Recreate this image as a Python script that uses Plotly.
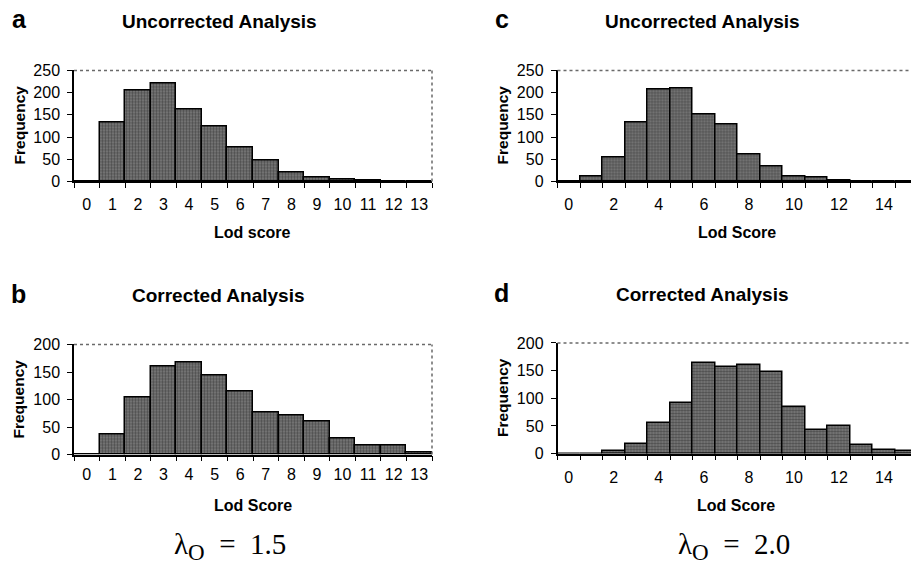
import plotly.graph_objects as go

# ---- data ----
lod_a = ["0", "1", "2", "3", "4", "5", "6", "7", "8", "9", "10", "11", "12", "13"]
freq_a = [0, 132, 205, 221, 162, 123, 77, 47, 21, 10, 4, 2, 1, 1]
ticks_a = ["0", "1", "2", "3", "4", "5", "6", "7", "8", "9", "10", "11", "12", "13"]

lod_b = ["0", "1", "2", "3", "4", "5", "6", "7", "8", "9", "10", "11", "12", "13"]
freq_b = [0, 36, 104, 160, 167, 143, 115, 76, 71, 60, 29, 16, 16, 3]
ticks_b = ["0", "1", "2", "3", "4", "5", "6", "7", "8", "9", "10", "11", "12", "13"]

lod_c = ["0", "1", "2", "3", "4", "5", "6", "7", "8", "9", "10", "11", "12", "13", "14", "15"]
freq_c = [0, 11, 55, 133, 208, 209, 151, 128, 62, 33, 12, 8, 3, 1, 0, 0]
ticks_c = ["0", "", "2", "", "4", "", "6", "", "8", "", "10", "", "12", "", "14", ""]

lod_d = ["0", "1", "2", "3", "4", "5", "6", "7", "8", "9", "10", "11", "12", "13", "14", "15"]
freq_d = [0, 0, 4, 18, 55, 91, 163, 157, 160, 147, 84, 42, 49, 16, 7, 4]
ticks_d = ["0", "", "2", "", "4", "", "6", "", "8", "", "10", "", "12", "", "14", ""]

W, H = 911, 572
SANS = "Liberation Sans, Arial, sans-serif"
SERIF = "Liberation Serif, Times New Roman, serif"

bar_marker = dict(
    color="#666666",
    line=dict(color="black", width=1.5),
    pattern=dict(shape=".", fgcolor="#1a1a1a", bgcolor="#7e7e7e", size=3, solidity=0.5),
)

fig = go.Figure()
panels = [
    ("", lod_a, freq_a),
    ("2", lod_b, freq_b),
    ("3", lod_c, freq_c),
    ("4", lod_d, freq_d),
]
for suf, x, y in panels:
    fig.add_trace(go.Bar(x=x, y=y, xaxis="x" + suf, yaxis="y" + suf,
                         marker=bar_marker, showlegend=False, hoverinfo="x+y"))

# vertical placement correction measured from the rendered page
Y_OFF, Y_SCALE = 7.6, 0.97

def px_x(v):
    return v / W

def px_y(v):
    return 1 - ((v - Y_OFF) / Y_SCALE) / H

def xax(dom, anchor, cats, labels, rng, standoff):
    return dict(domain=dom, anchor=anchor, type="category", range=rng,
                tickmode="array", tickvals=cats, ticktext=labels, tickangle=0,
                tickson="boundaries", ticks="outside", ticklen=5, tickwidth=1,
                tickcolor="black", showline=True, linecolor="black", linewidth=1.5,
                showgrid=False, zeroline=False, ticklabelstandoff=standoff,
                tickfont=dict(family=SANS, size=16, color="black"))

def yax(dom, anchor, top):
    return dict(domain=dom, anchor=anchor, range=[0, top], dtick=50,
                ticks="outside", ticklen=5, tickwidth=1, tickcolor="black",
                showline=True, linecolor="black", linewidth=1.5,
                showgrid=False, zeroline=False, ticklabelstandoff=4,
                tickfont=dict(family=SANS, size=16, color="black"))

left_dom = [px_x(74), px_x(432)]
right_dom = [px_x(557.5), 1.0]
top_dom = [px_y(181), px_y(70)]
bot_dom_b = [px_y(454), px_y(344)]
bot_dom_d = [px_y(453), px_y(342.5)]

fig.update_layout(
    width=W, height=H,
    margin=dict(l=0, r=0, t=0, b=0),
    paper_bgcolor="white", plot_bgcolor="white",
    bargap=0,
    xaxis=xax(left_dom, "y", lod_a, ticks_a, [-0.5, 13.5], 8),
    yaxis=yax(top_dom, "x", 250),
    xaxis2=xax(left_dom, "y2", lod_b, ticks_b, [-0.5, 13.5], 5),
    yaxis2=yax(bot_dom_b, "x2", 200),
    xaxis3=xax(right_dom, "y3", lod_c, ticks_c, [-0.5, 15.2], 8),
    yaxis3=yax(top_dom, "x3", 250),
    xaxis4=xax(right_dom, "y4", lod_d, ticks_d, [-0.5, 15.2], 9),
    yaxis4=yax(bot_dom_d, "x4", 200),
)

# dotted top / right frame
shapes = []
for suf, right in [("", True), ("2", True), ("3", False), ("4", False)]:
    xr = "x" + suf + " domain"
    yr = "y" + suf + " domain"
    shapes.append(dict(type="line", xref=xr, yref=yr, x0=0, x1=1, y0=1, y1=1,
                       line=dict(color="#6a6a6a", width=1.5, dash="dot")))
    if right:
        shapes.append(dict(type="line", xref=xr, yref=yr, x0=1, x1=1, y0=0, y1=1,
                           line=dict(color="#6a6a6a", width=1.5, dash="dot")))
fig.update_layout(shapes=shapes)

ann = []
def text(x, y, s, size, bold=True, angle=0, family=SANS):
    ann.append(dict(xref="paper", yref="paper", x=px_x(x), y=px_y(y),
                    xanchor="center", yanchor="middle", showarrow=False,
                    text=("<b>%s</b>" % s) if bold else s, textangle=angle,
                    font=dict(family=family, size=size, color="black")))

# panel letters
text(19.5, 19, "a", 25)
text(18.5, 294, "b", 25)
text(502, 19, "c", 25)
text(501.5, 293, "d", 25)
# panel titles
text(219, 21, "Uncorrected Analysis", 19)
text(218, 295, "Corrected Analysis", 19)
text(702.5, 21, "Uncorrected Analysis", 19)
text(702, 294, "Corrected Analysis", 19)
# y titles
text(19, 125, "Frequency", 15.5, angle=-90)
text(19, 399, "Frequency", 15.5, angle=-90)
text(502, 125, "Frequency", 15.5, angle=-90)
text(502, 397.5, "Frequency", 15.5, angle=-90)
# x titles
text(252.5, 232, "Lod score", 16)
text(252.5, 505, "Lod Score", 16)
text(737, 232, "Lod Score", 16)
text(736, 505, "Lod Score", 16)
# lambda labels
lam_sub = "<sub><span style='font-size:23px'>O</span></sub>"
text(230, 546, "λ" + lam_sub + " &nbsp;=&nbsp; 1.5", 29, bold=False, family=SERIF)
text(734, 546, "λ" + lam_sub + " &nbsp;=&nbsp; 2.0", 29, bold=False, family=SERIF)
fig.update_layout(annotations=ann)

fig.write_html(
    "out.html",
    config={"displayModeBar": False},
    post_script="document.body.style.margin='0';document.body.style.overflow='hidden';",
)
